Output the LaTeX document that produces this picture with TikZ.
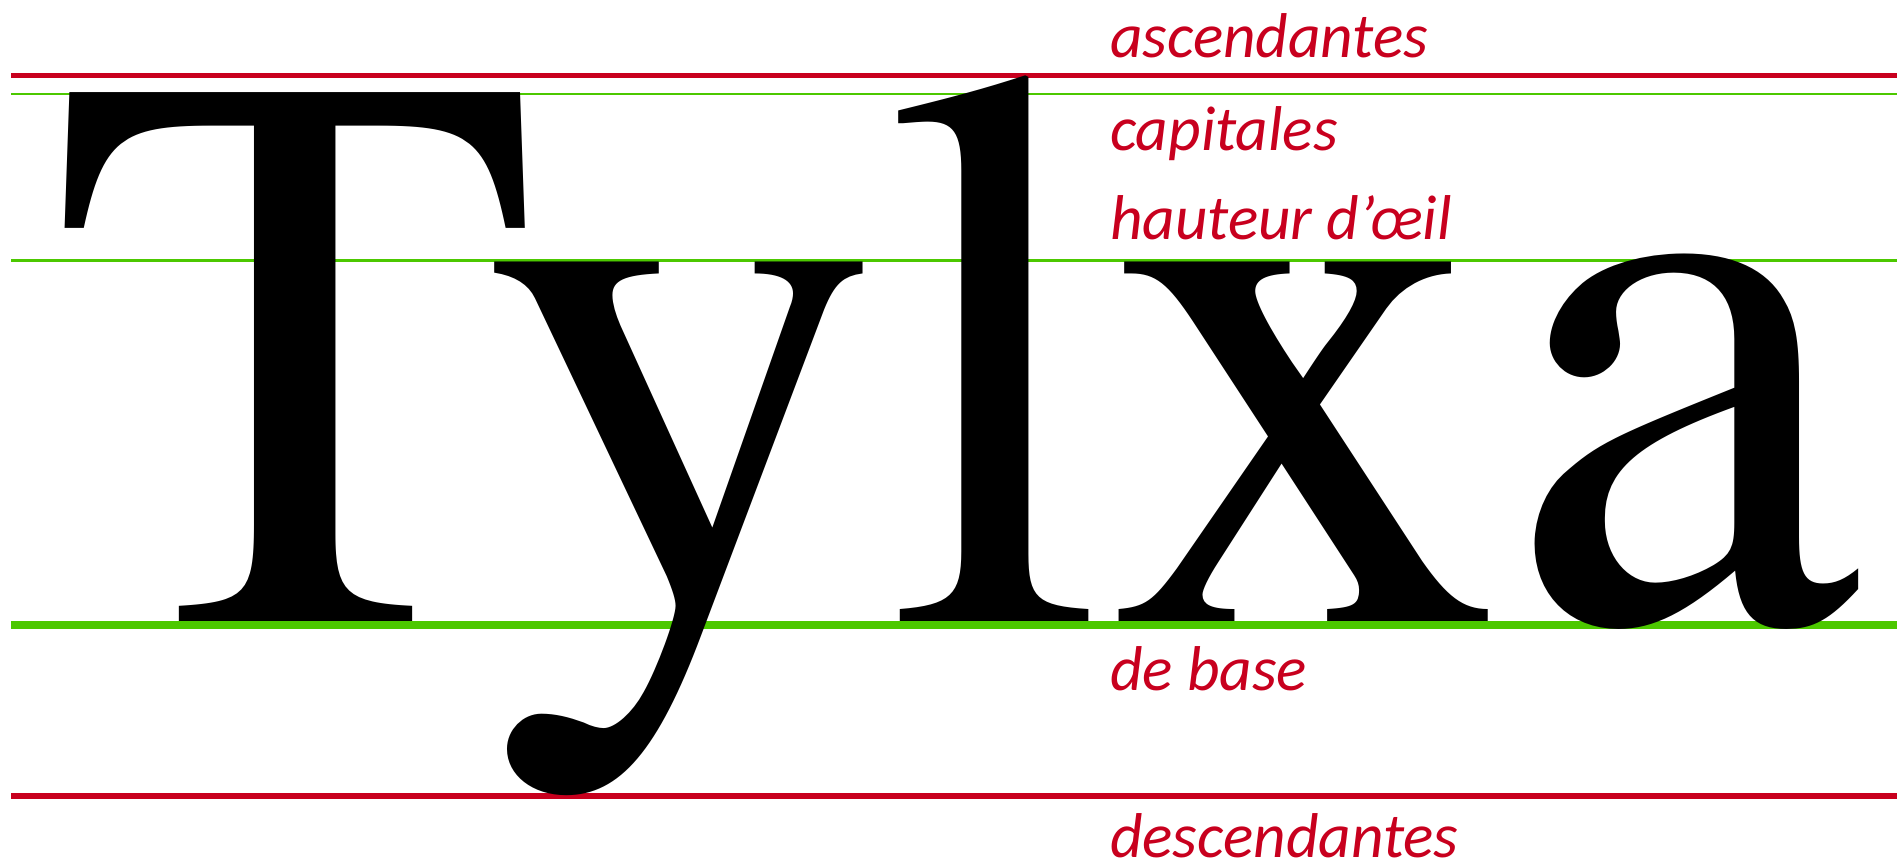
\documentclass[tikz,border=0pt]{standalone}
\usepackage{fontspec}
\newfontfamily\glyphfont{texgyretermes-regular.otf}
\newfontfamily\labelfont{Carlito}
\definecolor{linered}{RGB}{200,0,30}
\definecolor{linegreen}{RGB}{76,200,0}
\tikzset{
  redguide/.style={draw=linered, line width=5.3pt},
  greenthin/.style={draw=linegreen, line width=2.7pt},
  greenbase/.style={draw=linegreen, line width=8pt},
  glyph/.style={anchor=base west, inner sep=0pt, outer sep=0pt, text=black,
    font=\glyphfont\fontsize{799}{799}\selectfont},
  lbl/.style={anchor=base west, inner sep=0pt, outer sep=0pt, text=linered,
    font=\labelfont\itshape\fontsize{63.3}{63.3}\selectfont}
}
\begin{document}
\begin{tikzpicture}[x=1pt,y=-1pt]
\useasboundingbox (0,0) rectangle (1897,863);
% guide lines
\coordinate (ascL) at (11,75.8);   \coordinate (ascR) at (1897,75.8);
\coordinate (capL) at (11,94);     \coordinate (capR) at (1897,94);
\coordinate (xhL)  at (11,260.7);  \coordinate (xhR)  at (1897,260.7);
\coordinate (baseL) at (11,624.7); \coordinate (baseR) at (1897,624.7);
\coordinate (descL) at (11,796);   \coordinate (descR) at (1897,796);
\draw[redguide] (ascL) -- (ascR);
\draw[greenthin] (capL) -- (capR);
\draw[greenthin] (xhL) -- (xhR);
\draw[greenbase] (baseL) -- (baseR);
\draw[redguide] (descL) -- (descR);
% big letters
\node[glyph] (T) at (51,621) {T};
\node[glyph] (y) at (483,621) {y};
\node[glyph] (l) at (883,621) {l};
\node[glyph] (x) at (1105,621) {x};
\node[glyph] (a) at (1505,621) {a};
% labels
\node[lbl] (asc)  at (1110,57)  {ascendantes};
\node[lbl] (cap)  at (1110,150) {capitales};
\node[lbl] (xh)   at (1110,239) {hauteur d’œil};
\node[lbl] (base) at (1110,690) {de base};
\node[lbl] (desc) at (1110,857) {descendantes};
\end{tikzpicture}
\end{document}
